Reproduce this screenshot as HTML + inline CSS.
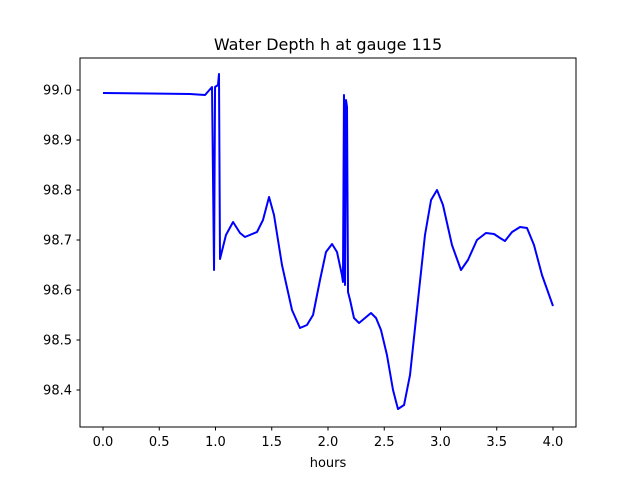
<!DOCTYPE html>
<html><head><meta charset="utf-8"><style>
body{margin:0;background:#fff}
svg text{font-family:"DejaVu Sans","Liberation Sans",sans-serif;fill:#000}
</style></head><body>
<svg id="chart" width="640" height="480" xmlns="http://www.w3.org/2000/svg">
<rect width="640" height="480" fill="#fff"/>
<text x="328" y="50" font-size="16" text-anchor="middle">Water Depth h at gauge 115</text>
<text x="328" y="467" font-size="13" text-anchor="middle">hours</text>
<g id="ticks"></g>
<path id="line" fill="none" stroke="#0000ff" stroke-width="2" stroke-linejoin="round"/>
<rect x="80" y="58" width="496" height="369" fill="none" stroke="#000" stroke-width="1"/>
</svg>
<script>
const hours=[0,0.418,0.773,0.907,0.969,0.987,0.996,1.022,1.031,1.04,1.093,1.156,1.218,1.262,1.369,1.422,1.476,1.52,1.591,1.68,1.751,1.813,1.867,1.929,1.982,2.036,2.08,2.124,2.133,2.142,2.151,2.16,2.169,2.178,2.196,2.231,2.276,2.329,2.382,2.427,2.471,2.524,2.578,2.622,2.676,2.729,2.8,2.862,2.916,2.969,3.022,3.102,3.182,3.244,3.324,3.404,3.476,3.529,3.573,3.636,3.707,3.769,3.831,3.902,4.0];
const depth=[98.994,98.993,98.992,98.99,99.006,98.64,99.006,99.01,99.032,98.662,98.71,98.736,98.714,98.706,98.716,98.74,98.786,98.75,98.65,98.56,98.524,98.53,98.55,98.62,98.676,98.692,98.676,98.63,98.616,98.99,98.61,98.98,98.966,98.596,98.58,98.544,98.534,98.544,98.554,98.544,98.52,98.47,98.40,98.362,98.37,98.43,98.58,98.71,98.78,98.80,98.77,98.69,98.64,98.66,98.70,98.714,98.712,98.704,98.698,98.716,98.726,98.724,98.69,98.63,98.568];
const xTicks=[0,0.5,1,1.5,2,2.5,3,3.5,4];
const xTickLabels=["0.0","0.5","1.0","1.5","2.0","2.5","3.0","3.5","4.0"];
const yTicks=[98.4,98.5,98.6,98.7,98.8,98.9,99.0];
const yTickLabels=["98.4","98.5","98.6","98.7","98.8","98.9","99.0"];
const xs=t=>103+t*112.5;
const ys=v=>90+(99.0-v)*500;
const NS="http://www.w3.org/2000/svg";
const g=document.getElementById('ticks');
function mk(tag,attrs){const e=document.createElementNS(NS,tag);for(const k in attrs)e.setAttribute(k,attrs[k]);return e;}
xTicks.forEach((t,i)=>{
  const l=mk('line',{x1:xs(t),x2:xs(t),y1:427,y2:430.5,stroke:'#000'});
  
  
  g.appendChild(l);
  const tx=mk('text',{x:xs(t),y:446,'font-size':13,'text-anchor':'middle'});
  
  
  tx.textContent=xTickLabels[i];g.appendChild(tx);
});
yTicks.forEach((v,i)=>{
  const l=mk('line',{x1:76.5,x2:80,y1:ys(v),y2:ys(v),stroke:'#000'});
  
  
  g.appendChild(l);
  const tx=mk('text',{x:72,y:ys(v)+4.5,'font-size':13,'text-anchor':'end'});
  
  
  tx.textContent=yTickLabels[i];g.appendChild(tx);
});
document.getElementById('line').setAttribute('d',hours.map((t,i)=>(i?'L':'M')+xs(t).toFixed(2)+' '+ys(depth[i]).toFixed(2)).join(' '));
</script>
</body></html>
